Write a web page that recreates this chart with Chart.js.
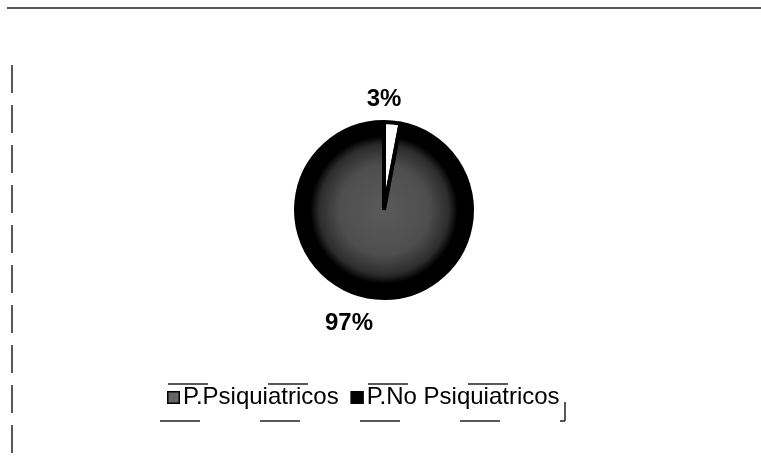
<!DOCTYPE html>
<html>
<head>
<meta charset="utf-8">
<script src="https://cdn.jsdelivr.net/npm/chart.js@4.4.1/dist/chart.umd.min.js"></script>
<style>
  html, body { margin: 0; padding: 0; background: #fff; }
  #wrap { width: 761px; height: 456px; }
</style>
</head>
<body>
<div id="wrap"><canvas id="pieChart" width="761" height="456"></canvas></div>
<script>
// data
const categories = ["P.Psiquiatricos", "P.No Psiquiatricos"];
const values = [3, 97];
const pctLabels = ["3%", "97%"];

// fill of the big slice: black edge, grey mottled centre
function sliceFill(ctx) {
  if (ctx.dataIndex === 0) return "#ffffff";
  const chart = ctx.chart;
  const area = chart.chartArea;
  if (!area) return "#333";
  const cx = (area.left + area.right) / 2;
  const cy = (area.top + area.bottom) / 2;
  const r = Math.min(area.right - area.left, area.bottom - area.top) / 2;
  const g = chart.ctx.createRadialGradient(cx, cy, 0, cx, cy, r);
  g.addColorStop(0, "#5a5a5a");
  g.addColorStop(0.5, "#4e4e4e");
  g.addColorStop(0.72, "#2c2c2c");
  g.addColorStop(0.82, "#000");
  g.addColorStop(1, "#000");
  return g;
}

// labels + legend + scanned frame
const decorPlugin = {
  id: "decor",
  afterDraw(chart) {
    const c = chart.ctx;
    const meta = chart.getDatasetMeta(0);
    const arc = meta.data[0];
    const cx = arc.x, cy = arc.y, r = arc.outerRadius;

    c.save();
    // percent labels
    c.fillStyle = "#000";
    c.font = "bold 24px 'Liberation Sans', Arial, sans-serif";
    c.textAlign = "center";
    c.textBaseline = "middle";
    c.fillText(pctLabels[0], cx, cy - r - 23);
    c.fillText(pctLabels[1], cx - 35, cy + r + 25);

    // legend
    const fills = ["#666", "#000"];
    c.font = "24px 'Liberation Sans', Arial, sans-serif";
    c.textAlign = "left";
    const ly = 397;
    let x = 167;
    categories.forEach((name, i) => {
      c.fillStyle = fills[i];
      c.fillRect(x, ly - 6, 13, 13);
      c.strokeStyle = "#000";
      c.lineWidth = 1.5;
      c.strokeRect(x + 0.75, ly - 5.25, 11.5, 11.5);
      c.fillStyle = "#000";
      c.fillText(name, x + 16, ly);
      x += 16 + c.measureText(name).width + 12;
    });

    // broken frame lines from the scan
    c.strokeStyle = "#222";
    c.lineWidth = 1.5;
    c.beginPath();
    c.moveTo(7, 8); c.lineTo(761, 8);
    c.stroke();
    c.setLineDash([28, 12]);
    c.beginPath();
    c.moveTo(12, 65); c.lineTo(12, 456);
    c.stroke();
    c.setLineDash([40, 60]);
    c.beginPath();
    c.moveTo(168, 384); c.lineTo(565, 384);
    c.moveTo(160, 421); c.lineTo(565, 421);
    c.stroke();
    c.setLineDash([]);
    c.beginPath();
    c.moveTo(565, 402); c.lineTo(565, 421);
    c.stroke();
    c.restore();
  },
};

const chartData = {
  labels: categories,
  datasets: [
    {
      data: values,
      backgroundColor: sliceFill,
      borderColor: "#000",
      borderWidth: 4,
    },
  ],
};

const chartConfig = {
  type: "pie",
  data: chartData,
  options: {
    responsive: false,
    animation: false,
    layout: { padding: { top: 120, bottom: 156, left: 7, right: 0 } },
    plugins: {
      legend: { display: false },
      tooltip: { enabled: false },
    },
  },
  plugins: [decorPlugin],
};

const pieChart = new Chart(document.getElementById("pieChart"), chartConfig);
</script>
</body>
</html>
